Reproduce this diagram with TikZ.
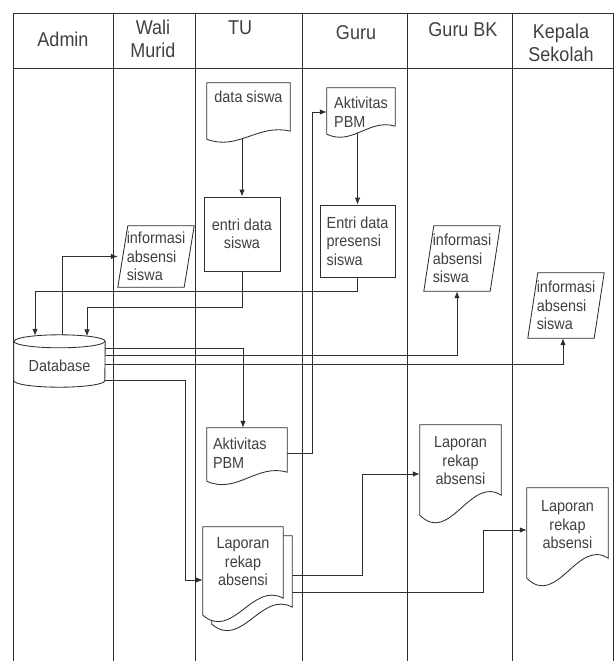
\documentclass[tikz,border=0pt]{standalone}
\usepackage{fontspec}
\setmainfont{Liberation Sans}[FakeStretch=0.9]
\usetikzlibrary{arrows.meta,calc,backgrounds}
\definecolor{cGaris}{HTML}{2E2E2E}
\definecolor{cTeks}{HTML}{404040}

% dokumen: node, ujung kanan di bawah south, ujung kiri di bawah south
\newcommand{\dokumen}[3]{%
  \pgfmathsetmacro{\gelombang}{(#3)-(#2)}
  \draw[garis, fill=white] (#1.north west) -- (#1.north east) -- ($(#1.south east)+(0,#2)$)
    .. controls ($(#1.south west)!0.62!(#1.south east)+(0,{#3-2*\gelombang})$)
    and ($(#1.south west)!0.37!(#1.south east)+(0,{#3+1.5*\gelombang})$)
    .. ($(#1.south west)+(0,#3)$) -- cycle;}
\newcommand{\jajargenjang}[1]{%
  \draw[garis, fill=white] ($(#1.north west)+(10,0)$) -- (#1.north east)
    -- ($(#1.south east)+(-10,0)$) -- (#1.south west) -- cycle;}

\begin{document}
\begin{tikzpicture}[x=1pt, y=-1pt,
  garis/.style={draw=cGaris, line width=0.85pt},
  panah/.style={garis, -{Latex[length=7pt,width=5.5pt]}},
  judul/.style={font=\fontsize{20pt}{23pt}\selectfont, text=cTeks, align=center, inner sep=0pt},
  kotak/.style={font=\fontsize{16pt}{18.5pt}\selectfont, text=cTeks, inner sep=0pt, align=center},
  proses/.style={kotak, garis}]

\useasboundingbox (0,0) rectangle (614,661);

% judul lajur
\node[judul] (hAdmin) at (63,39) {Admin};
\node[judul] (hWali) at (153,38.5) {Wali\\Murid};
\node[judul] (hTU) at (240,28) {TU};
\node[judul] (hGuru) at (356,33) {Guru};
\node[judul] (hBK) at (463,30) {Guru BK};
\node[judul] (hKS) at (561,42.5) {Kepala\\Sekolah};

% TU
\node[kotak, minimum width=83pt, minimum height=28pt] (dSiswa) at (248.5,97) {data siswa};
\node[proses, minimum width=76pt, minimum height=74pt] (eSiswa) at (242,234) {entri data\\siswa};
\node[kotak, minimum width=80pt, minimum height=50pt, text width=68pt, align=left] (dPBM1) at (247,453) {Aktivitas\\PBM};
\node[kotak, minimum width=80pt, minimum height=70pt] (lTUb) at (252,571) {};
\node[kotak, minimum width=80pt, minimum height=70pt] (lTU) at (243,562) {Laporan\\rekap\\absensi};

% Guru
\node[kotak, minimum width=68pt, minimum height=48pt, align=left] (dPBM2) at (361,112) {Aktivitas\\PBM};
\node[proses, minimum width=75pt, minimum height=72pt, align=left] (ePresensi) at (357.5,241) {Entri data\\presensi\\siswa};

% Wali Murid, Guru BK, Kepala Sekolah
\node[kotak, minimum width=76pt, minimum height=61pt, align=left] (iWali) at (156,256.5) {informasi\\absensi\\siswa};
\node[kotak, minimum width=76pt, minimum height=65pt, align=left] (iBK) at (462,258.5) {informasi\\absensi\\siswa};
\node[kotak, minimum width=76pt, minimum height=65pt, align=left] (iKS) at (566,305.5) {informasi\\absensi\\siswa};
\node[kotak, minimum width=81pt, minimum height=72pt] (lBK) at (460.5,461) {Laporan\\rekap\\absensi};
\node[kotak, minimum width=81pt, minimum height=74pt] (lKS) at (567.5,525) {Laporan\\rekap\\absensi};

% Admin
\node[kotak, minimum width=91pt, minimum height=49pt] (db) at (59.5,366) {Database};

\begin{scope}[on background layer]
% lajur
\draw[garis] (13,661) -- (13,13) -- (613,13) -- (613,661);
\draw[garis] (13,68) -- (613,68);
\foreach \x in {113,195,302,407,512} \draw[garis] (\x,13) -- (\x,661);

% alur
\draw[panah] (dSiswa.center -| eSiswa.north) -- (eSiswa.north);
\draw[panah] (eSiswa.south) -- ++(0,36) -| ($(db.north)+(27.5,-5)$);
\draw[panah] (dPBM2.center -| ePresensi.north) -- (ePresensi.north);
\draw[panah] (ePresensi.south) -- ++(0,14) -| ($(db.north)+(-24.5,-5.5)$);
\draw[panah] ($(db.north)+(2.5,0)$) |- (iWali.west);
\draw[panah] ($(db.east)+(0,-18)$) -| ($(dPBM1.north)+(-4,0)$);
\draw[panah] ($(db.east)+(0,-11)$) -| ($(iBK.south)+(-5,0)$);
\draw[panah] ($(db.east)+(0,-2)$) -| ($(iKS.south)+(-3,0)$);
\draw[panah] ($(db.east)+(0,14)$) -- ++(80,0) |- ($(lTU.west)+(0,18)$);
\draw[panah] (dPBM1.east) -- ++(25,0) |- (dPBM2.west);
\draw[panah] ($(lTU.east)+(0,13)$) -- ++(79,0) |- ($(lBK.west)+(0,13)$);
\draw[panah] ($(lTU.east)+(0,30)$) -- ++(200,0) |- ($(lKS.west)+(0,5)$);

% bentuk
\dokumen{dSiswa}{20}{28}
\dokumen{dPBM1}{-6}{3}
\dokumen{lTUb}{1}{18}
\dokumen{lTU}{1}{18}
\dokumen{dPBM2}{-10}{-2}
\dokumen{lBK}{-2}{18}
\dokumen{lKS}{-4}{16}
\jajargenjang{iWali}
\jajargenjang{iBK}
\jajargenjang{iKS}
\draw[garis, fill=white] (db.north west) -- ($(db.south west)+(0,-10)$)
  arc[start angle=180, end angle=360, x radius=45.5pt, y radius=6.5pt]
  -- (db.north east) arc[start angle=0, end angle=180, x radius=45.5pt, y radius=6.5pt] -- cycle;
\draw[garis] (db.north west) arc[start angle=180, end angle=360, x radius=45.5pt, y radius=6.5pt];
\end{scope}
\end{tikzpicture}
\end{document}
